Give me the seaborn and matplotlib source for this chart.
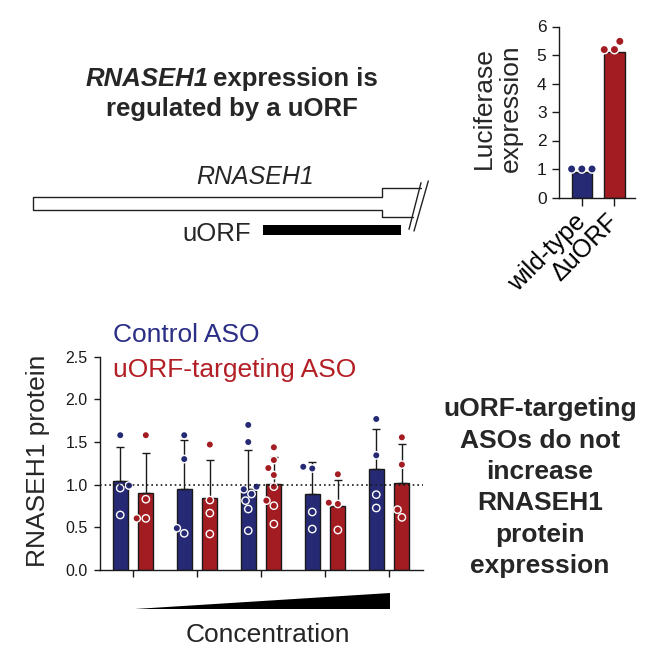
import numpy as np
import pandas as pd
import matplotlib
matplotlib.use("Agg")
import matplotlib.pyplot as plt
import seaborn as sns
from matplotlib.patches import Polygon, Rectangle
from matplotlib.lines import Line2D
from matplotlib.ticker import FormatStrFormatter

# ---------------- data ----------------
# Luciferase reporter (top right)
luc_groups = ["wild-type", "ΔuORF"]
luc_means = [0.91, 5.09]
luc_sd = [0.0, 0.24]
luc_wt_points = [1.0, 1.0, 1.0]
luc_duorf_points = [5.19, 5.48, 5.19]

# RNASEH1 protein vs ASO concentration (bottom)
conc_levels = ["c1", "c2", "c3", "c4", "c5"]
treatments = ["Control ASO", "uORF-targeting ASO"]
ctrl_means = [1.04, 0.945, 0.95, 0.89, 1.18]
ctrl_sd = [0.40, 0.58, 0.46, 0.37, 0.47]
uorf_means = [0.90, 0.84, 1.01, 0.75, 1.02]
uorf_sd = [0.47, 0.45, 0.31, 0.31, 0.46]
ctrl_points = [
    [1.58, 0.99, 0.96, 0.645],
    [1.58, 1.30, 0.43, 0.49],
    [1.70, 1.50, 0.977, 0.946, 0.891, 0.813, 0.715, 0.461],
    [1.21, 1.19, 0.68, 0.48],
    [1.77, 1.344, 0.883, 0.727],
]
uorf_points = [
    [1.58, 0.83, 0.605, 0.605],
    [1.47, 0.82, 0.667, 0.422],
    [1.438, 1.289, 1.195, 1.113, 0.977, 0.813, 0.754, 0.539],
    [1.122, 0.789, 0.774, 0.469],
    [1.555, 1.235, 0.707, 0.617],
]

# ---------------- style ----------------
sns.set_theme(style="ticks")
plt.rcParams['font.family'] = ['Liberation Sans', 'DejaVu Sans']
BLUE, RED = "#262a75", "#a31c21"
BLUE_TXT, RED_TXT = "#2b2e85", "#b31f25"
INK = "#1a1a1a"
W = H = 664

fig = plt.figure(figsize=(6.64, 6.64), dpi=100)

def px_axes(left, top, right, bottom):
    return fig.add_axes([left / W, 1 - bottom / H, (right - left) / W, (bottom - top) / H])

# overlay for schematic & free text (pixel coordinates)
ov = fig.add_axes([0, 0, 1, 1], zorder=0)
ov.set_xlim(0, W)
ov.set_ylim(H, 0)
ov.axis("off")

# title
ov.text(86, 86, "RNASEH1", fontsize=18.5, fontweight="bold", fontstyle="italic", ha="left", va="baseline")
ov.text(213, 86, "expression is", fontsize=18.5, fontweight="bold", ha="left", va="baseline")
ov.text(232, 116, "regulated by a uORF", fontsize=18.5, fontweight="bold", ha="center", va="baseline")

# gene schematic
ov.add_line(Line2D([421, 381.7, 381.7, 33, 33, 381.7, 381.7, 413],
                   [188.3, 188.3, 196.5, 196.5, 209.5, 209.5, 216.7, 216.7], color="#222", lw=1))
ov.add_line(Line2D([421, 409], [182.7, 229.3], color="#222", lw=1))
ov.add_line(Line2D([428.3, 414], [181, 231], color="#222", lw=1))
ov.add_patch(Rectangle((263, 225), 137.7, 10, facecolor="black", edgecolor="none"))
ov.text(255, 183.5, "RNASEH1", fontsize=18, fontstyle="italic", ha="center", va="baseline")
ov.text(182, 241, "uORF", fontsize=18.5, ha="left", va="baseline")

# legend-like labels
ov.text(112.7, 342.5, "Control ASO", fontsize=19, color=BLUE_TXT, ha="left", va="baseline")
ov.text(112.7, 376.5, "uORF-targeting ASO", fontsize=19, color=RED_TXT, ha="left", va="baseline")

# right conclusion text
concl = ["uORF-targeting", "ASOs do not", "increase", "RNASEH1", "protein", "expression"]
for k, line in enumerate(concl):
    ov.text(540, 416 + k * 31.5, line, fontsize=19, fontweight="bold", ha="center", va="baseline")

# concentration wedge
ov.add_patch(Polygon([(135, 609), (390, 609), (390, 592.5)], closed=True, facecolor="black", edgecolor="none"))

# ---------------- bottom chart ----------------
ax = px_axes(100, 356.7, 423, 570)
bar_df = pd.DataFrame({
    "conc": conc_levels * 2,
    "treatment": [treatments[0]] * 5 + [treatments[1]] * 5,
    "value": ctrl_means + uorf_means,
})
rows = []
for c, pts in zip(conc_levels, ctrl_points):
    rows += [(c, treatments[0], v) for v in pts]
for c, pts in zip(conc_levels, uorf_points):
    rows += [(c, treatments[1], v) for v in pts]
pt_df = pd.DataFrame(rows, columns=["conc", "treatment", "value"])

sns.barplot(data=bar_df, x="conc", y="value", hue="treatment", order=conc_levels, hue_order=treatments,
            palette=[BLUE, RED], saturation=1, width=0.8, gap=0.41, errorbar=None, edgecolor=INK,
            linewidth=1, legend=False, ax=ax, zorder=2)
for cont, sds in zip(ax.containers, [ctrl_sd, uorf_sd]):
    for bar, sd in zip(cont, sds):
        x = bar.get_x() + bar.get_width() / 2
        ax.errorbar([x], [bar.get_height()], yerr=[[0], [sd]], fmt="none", ecolor=INK,
                    elinewidth=1, capsize=3.2, capthick=1, zorder=3)
sns.swarmplot(data=pt_df, x="conc", y="value", hue="treatment", order=conc_levels, hue_order=treatments,
              palette=[BLUE, RED], dodge=True, size=5.3, edgecolor="white", linewidth=1,
              legend=False, ax=ax, zorder=4)
ax.axhline(1.0, color=INK, lw=1.2, ls=(0, (1, 1.8)), zorder=5)
ax.set_xlim(-0.516, 4.53)
ax.set_ylim(0, 2.5)
ax.set_yticks(np.arange(0, 2.51, 0.5))
ax.yaxis.set_major_formatter(FormatStrFormatter("%.1f"))
ax.tick_params(axis="y", length=4, width=1, labelsize=11.5, colors=INK, pad=5)
ax.tick_params(axis="x", length=5, width=1, labelbottom=False, colors=INK)
for s in ["top", "right"]:
    ax.spines[s].set_visible(False)
for s in ["left", "bottom"]:
    ax.spines[s].set_linewidth(1)
    ax.spines[s].set_color(INK)
ax.set_ylabel("RNASEH1 protein", fontsize=19)
ax.yaxis.set_label_coords(-0.155, 0.51)
ax.set_xlabel("Concentration", fontsize=19)
ax.xaxis.set_label_coords(0.519, -0.25)
ax.patch.set_alpha(0)

# ---------------- top right chart ----------------
ax2 = px_axes(559, 26.5, 635, 197.5)
luc_bar_df = pd.DataFrame({"group": luc_groups, "value": luc_means})
luc_pt_df = pd.DataFrame({
    "group": [luc_groups[0]] * len(luc_wt_points) + [luc_groups[1]] * len(luc_duorf_points),
    "value": luc_wt_points + luc_duorf_points,
})
sns.barplot(data=luc_bar_df, x="group", y="value", hue="group", order=luc_groups, hue_order=luc_groups,
            palette=[BLUE, RED], saturation=1, width=0.62, errorbar=None, edgecolor=INK, linewidth=1,
            legend=False, ax=ax2, zorder=2)
for cont, sd in zip(ax2.containers, luc_sd):
    for bar in cont:
        x = bar.get_x() + bar.get_width() / 2
        ax2.errorbar([x], [bar.get_height()], yerr=[[0], [sd]], fmt="none", ecolor=INK,
                     elinewidth=1, capsize=2, capthick=1, zorder=3)
sns.swarmplot(data=luc_pt_df, x="group", y="value", hue="group", order=luc_groups, hue_order=luc_groups,
              palette=[BLUE, RED], size=6.0, edgecolor="white", linewidth=1, legend=False, ax=ax2, zorder=4)
ax2.set_xlim(-0.70, 1.63)
ax2.set_ylim(0, 6)
ax2.set_yticks(range(0, 7))
ax2.tick_params(axis="y", length=5, width=1, labelsize=12.5, colors=INK, pad=4)
ax2.tick_params(axis="x", length=5.5, width=1, labelsize=18, colors=INK, pad=9)
plt.setp(ax2.get_xticklabels(), rotation=45, ha="right", va="center", rotation_mode="anchor", color="black")
for s in ["top", "right"]:
    ax2.spines[s].set_visible(False)
for s in ["left", "bottom"]:
    ax2.spines[s].set_linewidth(1)
    ax2.spines[s].set_color(INK)
ax2.set_xlabel("")
ax2.set_ylabel("Luciferase\nexpression", fontsize=19)
ax2.yaxis.set_label_coords(-0.47, 0.524)
ax2.patch.set_alpha(0)

fig.savefig("out.png", dpi=100, facecolor="white")
